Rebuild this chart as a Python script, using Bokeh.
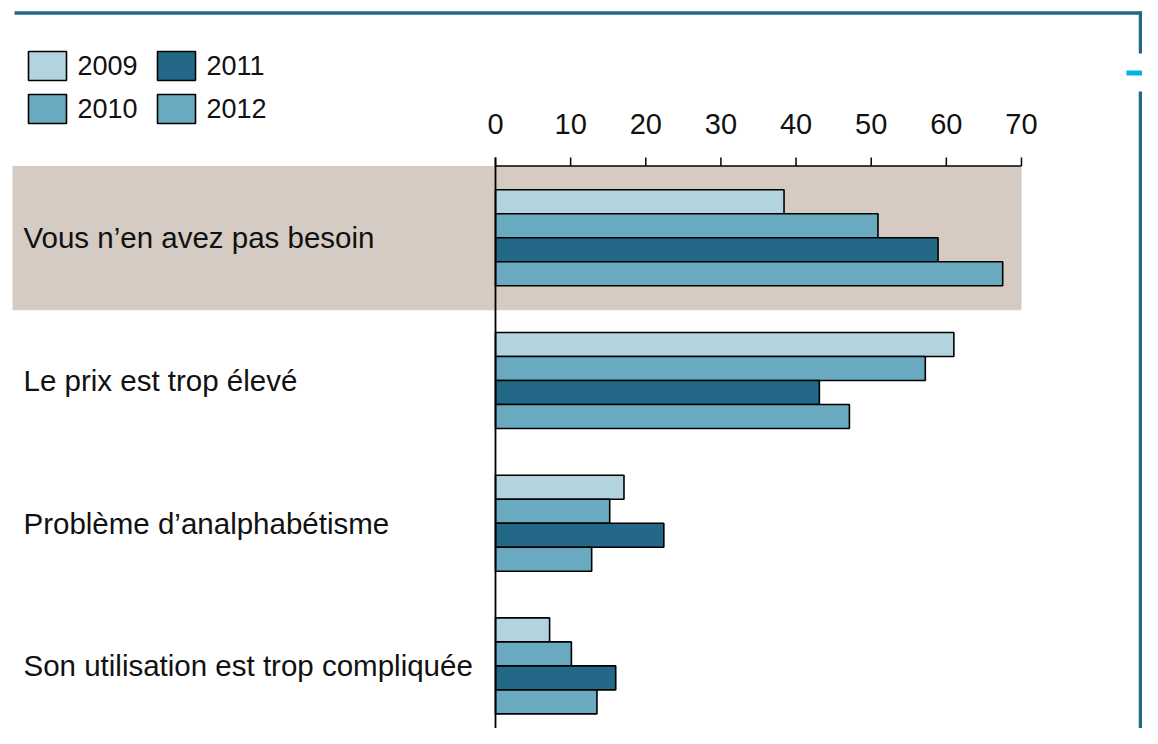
from bokeh.plotting import figure
from bokeh.models import Range1d
from bokeh.core.properties import value
from bokeh.embed import file_html
from bokeh.resources import INLINE

# ---- data ----
categories = ["Vous n\u2019en avez pas besoin", "Le prix est trop élevé",
              "Problème d\u2019analphabétisme", "Son utilisation est trop compliquée"]
years = ["2009", "2010", "2011", "2012"]
v2009 = [38.4, 61.0, 17.1, 7.2]
v2010 = [50.9, 57.2, 15.2, 10.1]
v2011 = [58.9, 43.1, 22.4, 16.0]
v2012 = [67.5, 47.1, 12.8, 13.5]
series = [v2009, v2010, v2011, v2012]
colors = ["#b3d4df", "#6aaac0", "#236886", "#6aaac0"]
tick_values = [0, 10, 20, 30, 40, 50, 60, 70]
tick_labels = ["0", "10", "20", "30", "40", "50", "60", "70"]
highlight = 0  # index of shaded category

# ---- layout helpers (pixel -> data) ----
W, H = 1142, 728
X0_PX, PX_PER_UNIT = 495.0, 7.514
Y0_PX, PX_PER_CAT = 237.3, 142.7


def X(px):
    return (px - X0_PX) / PX_PER_UNIT


def Y(py):
    return (py - Y0_PX) / PX_PER_CAT


p = figure(width=W, height=H, output_backend="svg", toolbar_location=None,
           x_range=Range1d(X(0), X(W)),
           y_range=Range1d(Y(H), Y(0)),
           min_border=0, min_border_left=0, min_border_right=0,
           min_border_top=0, min_border_bottom=0)
p.axis.visible = False
p.grid.visible = False
p.outline_line_color = None
p.background_fill_color = "white"
p.border_fill_color = "white"

FONT = value("Liberation Sans")

# shaded band for highlighted category
p.quad(left=[X(12)], right=[tick_values[-1]], top=[highlight - 0.5 - 0.003],
       bottom=[highlight + 0.508], fill_color="#d5cbc2", line_color=None)

# bars
bh = 24.0 / PX_PER_CAT
for j, (vals, col) in enumerate(zip(series, colors)):
    ys = [k + (j - 1.5) * bh for k in range(len(categories))]
    p.hbar(y=ys, left=0, right=vals, height=bh, fill_color=col,
           line_color="black", line_width=1.6)

# axis (top) drawn with the data scale
axis_y = -0.5 - 0.003
p.segment(x0=[0], y0=[axis_y], x1=[tick_values[-1]], y1=[axis_y],
          line_color="black", line_width=1.5)
p.segment(x0=tick_values, y0=[axis_y] * len(tick_values), x1=tick_values,
          y1=[Y(157)] * len(tick_values), line_color="black", line_width=1.5)
p.segment(x0=[0], y0=[Y(157)], x1=[0], y1=[Y(735)], line_color="black", line_width=1.8)
p.text(x=tick_values, y=[Y(123)] * len(tick_values), text=tick_labels,
       text_font=FONT, text_font_size="29px", text_align="center",
       text_baseline="middle", text_color="#111111")

# category labels
p.text(x=[X(23)] * len(categories), y=list(range(len(categories))), text=categories,
       text_font=FONT, text_font_size="29.5px", text_align="left",
       text_baseline="middle", text_color="#111111")

# legend (col-major: 2009, 2010 | 2011, 2012)
box_x = [28, 28, 157, 157]
box_y = [51, 94, 51, 94]
for j in range(4):
    bx, by = box_x[j], box_y[j]
    p.quad(left=[X(bx)], right=[X(bx + 38)], top=[Y(by)], bottom=[Y(by + 29)],
           fill_color=colors[j], line_color="black", line_width=1.6)
    p.text(x=[X(bx + 49)], y=[Y(by + 13.5)], text=[years[j]], text_font=FONT,
           text_font_size="27px", text_align="left", text_baseline="middle",
           text_color="#111111")

# frame decoration
frame_col = "#236886"
p.segment(x0=[X(14)], y0=[Y(12.5)], x1=[X(1150)], y1=[Y(12.5)],
          line_color=frame_col, line_width=3.5)
p.segment(x0=[X(1140)], y0=[Y(11)], x1=[X(1140)], y1=[Y(53)],
          line_color=frame_col, line_width=3.5)
p.segment(x0=[X(1140)], y0=[Y(91)], x1=[X(1140)], y1=[Y(744)],
          line_color=frame_col, line_width=3.5)
p.segment(x0=[X(1126)], y0=[Y(72.5)], x1=[X(1150)], y1=[Y(72.5)],
          line_color="#00b4e6", line_width=5)

open("out.html", "w").write(file_html(p, INLINE))
